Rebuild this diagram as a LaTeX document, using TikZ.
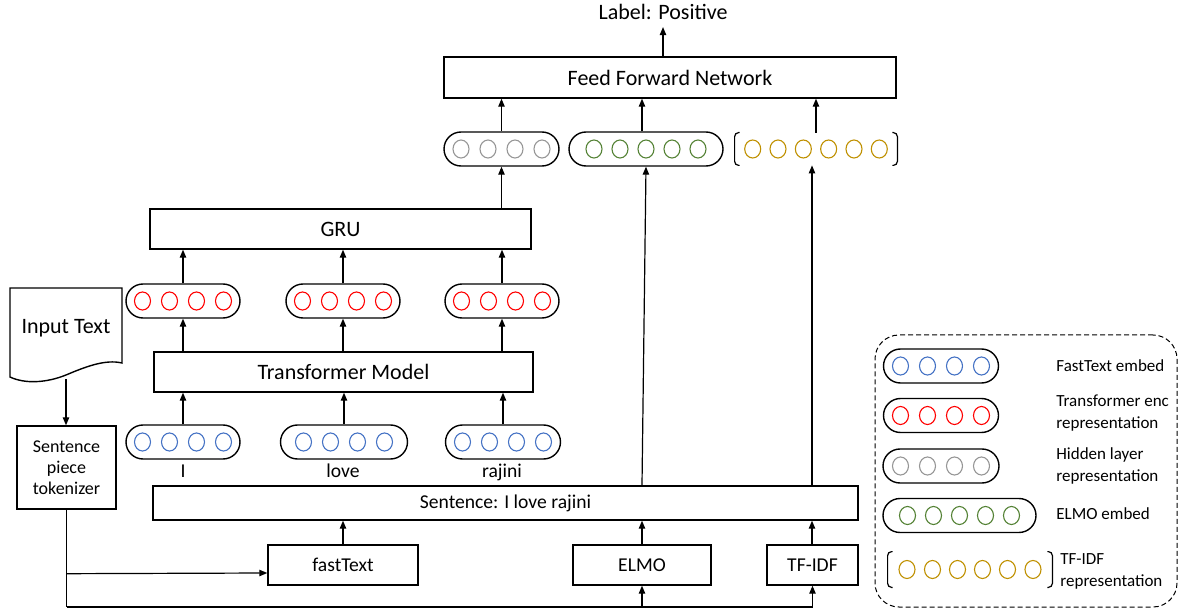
\documentclass[tikz,border=0pt]{standalone}
\usepackage{fontspec}
\setmainfont{Carlito}
\usetikzlibrary{arrows.meta,calc}
\definecolor{cblue}{RGB}{68,114,196}
\definecolor{cred}{RGB}{255,0,0}
\definecolor{cgray}{RGB}{150,150,150}
\definecolor{cgreen}{RGB}{84,130,53}
\definecolor{cgold}{RGB}{191,144,0}
\tikzset{
 box/.style={draw, line width=0.7pt, inner sep=0, align=center},
 pill/.style={draw, line width=0.7pt, rounded corners=8.5pt, minimum height=17pt, inner sep=0},
 arr/.style={line width=0.6pt, -{Triangle[length=4pt,width=3.2pt]}},
 conn/.style={line width=0.6pt},
 unitc/.style={line width=0.55pt},
 big/.style={font=\fontsize{11}{13}\selectfont},
 mid/.style={font=\fontsize{9.8}{11.5}\selectfont},
 small/.style={font=\fontsize{9}{10.5}\selectfont},
 leg/.style={font=\fontsize{8.5}{11}\selectfont, align=left, anchor=west, inner sep=0},
 brk/.style={minimum height=16pt, inner sep=0},
}
\newcommand\unitrow[3]{\foreach \o in {#3} \draw[unitc, #2] ($(#1)+(\o,0)$) ellipse [x radius=4pt, y radius=4.5pt];}
\newcommand\brkt[1]{%
 \draw[line width=0.6pt, rounded corners=2pt] ($(#1.north west)+(5,0)$) -- (#1.north west) -- (#1.south west) -- ($(#1.south west)+(5,0)$);
 \draw[line width=0.6pt, rounded corners=2pt] ($(#1.north east)+(-5,0)$) -- (#1.north east) -- (#1.south east) -- ($(#1.south east)+(-5,0)$);}
\begin{document}
\begin{tikzpicture}[x=0.5pt,y=-0.5pt]
\useasboundingbox (0,0) rectangle (1180,615);
% top
\node[inner sep=0, anchor=base, font=\fontsize{11}{13}\selectfont] (lab) at (663,19.5) {Label: Positive};
\node[box, big, minimum width=226pt, minimum height=20.5pt] (ffn) at (670,77.5) {Feed Forward Network};
\draw[arr, shorten >=3.5pt] (ffn.north -| lab) -- (lab.south);
% representation row
\node[pill, minimum width=57.5pt] (hp) at (501.5,149) {};
\unitrow{hp}{cgray}{-40.5,-13.5,13.5,40.5}
\node[pill, minimum width=77pt] (gp) at (646,149) {};
\unitrow{gp}{cgreen}{-52,-26,0,26,52}
\node[brk, minimum width=81pt] (yb) at (816,149) {};
\brkt{yb}
\unitrow{yb}{cgold}{-63.3,-38,-12.65,12.65,38,63.3}
% GRU
\node[box, big, minimum width=190.5pt, minimum height=20pt] (gru) at (340.5,229) {GRU};
% red pills
\node[pill, minimum width=57pt] (rp1) at (183,301) {};
\node[pill, minimum width=57pt] (rp2) at (343,301) {};
\node[pill, minimum width=57pt] (rp3) at (502,301) {};
\unitrow{rp1}{cred}{-40.5,-13.5,13.5,40.5}
\unitrow{rp2}{cred}{-40.5,-13.5,13.5,40.5}
\unitrow{rp3}{cred}{-40.5,-13.5,13.5,40.5}
% transformer
\node[box, big, minimum width=189.5pt, minimum height=20pt] (tr) at (343.5,372) {Transformer Model};
% blue pills
\node[pill, minimum width=57pt] (bp1) at (183,442) {};
\node[pill, minimum width=63.5pt] (bp2) at (344,442) {};
\node[pill, minimum width=57.5pt] (bp3) at (503,442) {};
\unitrow{bp1}{cblue}{-40.5,-13.5,13.5,40.5}
\unitrow{bp2}{cblue}{-40.5,-13.5,13.5,40.5}
\unitrow{bp3}{cblue}{-40.5,-13.5,13.5,40.5}
\node[mid, anchor=base, inner sep=0] (w1) at (183,477) {I};
\node[mid, anchor=base, inner sep=0] (w2) at (343,477) {love};
\node[mid, anchor=base, inner sep=0] (w3) at (502,477) {rajini};
% sentence and encoders
\node[box, mid, minimum width=352.5pt, minimum height=17pt] (sent) at (505.5,503) {Sentence: I love rajini};
\node[box, mid, minimum width=75pt, minimum height=20pt] (ft) at (343,565) {fastText};
\node[box, mid, minimum width=69pt, minimum height=20pt] (el) at (642,565) {ELMO};
\node[box, mid, minimum width=45.5pt, minimum height=20pt] (tf) at (812.5,565) {TF-IDF};
\coordinate (xt) at (812,0);
% input
\draw[line width=0.7pt] (10,288) -- (122,288) -- (122,363) .. controls (105,359) and (85,367) .. (66,375) .. controls (46,383) and (25,384) .. (10,377) -- cycle;
\node[big, inner sep=0] (inp) at (66,328) {Input Text};
\coordinate (inbot) at (66,379);
\node[box, small, minimum width=49.5pt, minimum height=41.5pt] (tok) at (66.5,467.5) {Sentence\\piece\\tokenizer};
\coordinate (bl) at (66.5,607);
\coordinate (br) at ($(tok.south)+(0,64)$);
% connectors
\draw[arr] (inbot) -- (inbot |- tok.north);
\draw[conn] (tok.south) -- (bl);
\draw[arr] (bl) -| (tf.south);
\draw[arr] (br) -- ($(ft.west)+(0,8)$);
\draw[arr] (el.south |- bl) -- (el.south);
\draw[arr] (ft.north) -- (ft.north |- sent.south);
\draw[arr] (el.north) -- (el.north |- sent.south);
\draw[arr] (tf.north -| xt) -- (sent.south -| xt);
\draw[arr] (sent.north -| el.north) -- (gp.south);
\draw[arr] (sent.north -| xt) -- (yb.south -| xt);
\foreach \p in {bp1,bp2,bp3} \draw[arr] (\p.north) -- (\p.north |- tr.south);
\foreach \p in {rp1,rp2,rp3} \draw[arr] (\p.south |- tr.north) -- (\p.south);
\foreach \p in {rp1,rp2,rp3} \draw[arr] (\p.north) -- (\p.north |- gru.south);
\draw[arr] (hp.south |- gru.north) -- (hp.south);
\draw[arr] (hp.north) -- (hp.north |- ffn.south);
\draw[arr] (gp.north -| el.north) -- (ffn.south -| el.north);
\draw[arr] (yb.north) -- (yb.north |- ffn.south);
% legend
\node[draw, line width=0.5pt, dash pattern=on 2.5pt off 1.5pt, rounded corners=12pt, minimum width=151pt, minimum height=136pt] (legend) at (1026,471) {};
\node[pill, minimum width=57.5pt] (l1) at (941,366) {};
\unitrow{l1}{cblue}{-40.5,-13.5,13.5,40.5}
\node[leg] (t1) at (1056,366) {FastText embed};
\node[pill, minimum width=57.5pt] (l2) at (941,415.5) {};
\unitrow{l2}{cred}{-40.5,-13.5,13.5,40.5}
\node[leg] (t2) at (1056,413) {Transformer enc\\representation};
\node[pill, minimum width=58pt] (l3) at (941,466) {};
\unitrow{l3}{cgray}{-40.5,-13.5,13.5,40.5}
\node[leg] (t3) at (1056,466) {Hidden layer\\representation};
\node[pill, minimum width=76.5pt] (l4) at (959.5,515.5) {};
\unitrow{l4}{cgreen}{-52,-26,0,26,52}
\node[leg] (t4) at (1056,514) {ELMO embed};
\node[brk, minimum width=82pt, minimum height=17.5pt] (l5) at (970,569.5) {};
\brkt{l5}
\unitrow{l5}{cgold}{-63,-37.5,-12.5,12.5,37.5,63}
\node[leg] (t5) at (1060,571.5) {TF-IDF\\representation};
\end{tikzpicture}
\end{document}
